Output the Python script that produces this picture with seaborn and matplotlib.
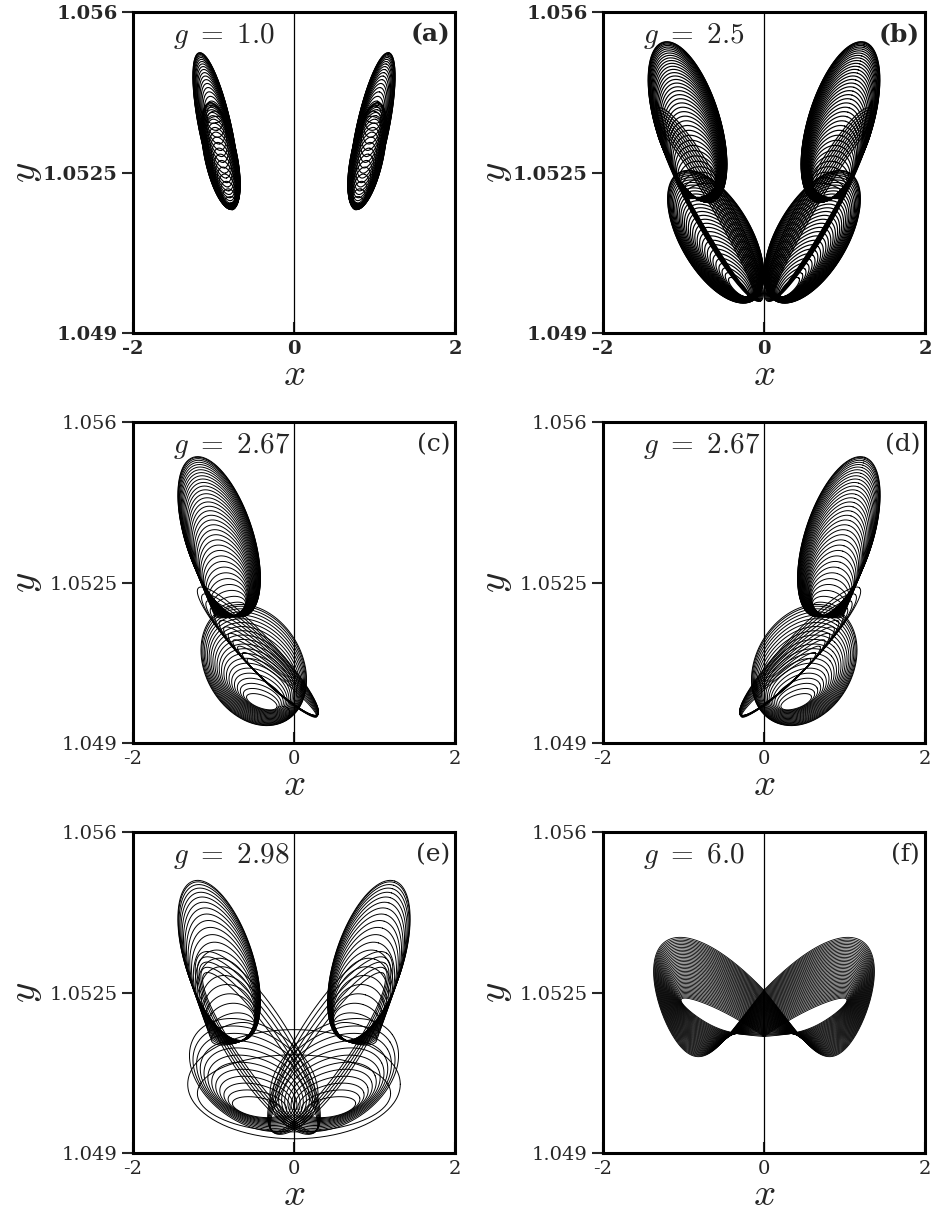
import numpy as np
import pandas as pd
import matplotlib
matplotlib.use("Agg")
import matplotlib.pyplot as plt
import seaborn as sns

# ---------------- data ----------------
X_LIMITS = [-2.0, 2.0]
Y_LIMITS = [1.049, 1.056]
X_TICKS = [-2, 0, 2]
X_TICK_LABELS = ["-2", "0", "2"]
Y_TICKS = [1.049, 1.0525, 1.056]
Y_TICK_LABELS = ["1.049", "1.0525", "1.056"]
PANEL_LABELS = ["(a)", "(b)", "(c)", "(d)", "(e)", "(f)"]
G_VALUES = ["1.0", "2.5", "2.67", "2.67", "2.98", "6.0"]

# Loop families: each loop is a tilted closed orbit read as
# (centre x, centre y, half-length along tilt, half-width, tilt deg);
# outermost and innermost loop of each family, loop count, crowding.
A_UPPER = [(-0.97, 1.05340, 0.250, 0.050, -78), (-0.98, 1.05365, 0.010, 0.022, -78), 22, 1.8]
A_LOWER = [(-0.91, 1.05286, 0.170, 0.050, -78), (-0.80, 1.05190, 0.010, 0.016, -75), 22, 1.8]

B_UPPER = [(-0.95, 1.05360, 0.260, 0.100, -73), (-0.80, 1.05210, 0.020, 0.050, -73), 40, 1.6]
B_LOWER = [(-0.60, 1.05110, 0.230, 0.110, -60), (-0.32, 1.05000, 0.040, 0.015, -45), 32, 1.5]
B_BAND = [(-0.68, 1.05180, 0.340, 0.060, -62), (-0.72, 1.05160, 0.300, 0.025, -60), 10, 1.0]

C_UPPER = [(-0.93, 1.05350, 0.260, 0.105, -72), (-0.80, 1.05190, 0.020, 0.050, -72), 36, 1.5]
C_LOWER = [(-0.50, 1.05070, 0.200, 0.150, -60), (-0.40, 1.04990, 0.050, 0.020, -20), 22, 1.3]
C_TIP = [(-0.45, 1.05100, 0.270, 0.050, -47), (-0.15, 1.05020, 0.140, 0.020, -40), 12, 1.0]

E_UPPER = [(-0.93, 1.05320, 0.260, 0.105, -72), (-0.76, 1.05160, 0.030, 0.070, -73), 22, 1.5]
E_LOWER = [(-0.50, 1.05070, 0.220, 0.150, -35), (-0.45, 1.05000, 0.080, 0.030, -10), 12, 1.0]
E_BAND = [(-0.45, 1.05140, 0.330, 0.100, -58), (-0.42, 1.05120, 0.300, 0.060, -55), 5, 1.0]
E_WIDE = [(0.00, 1.0505, 0.330, 0.170, 0), (0.00, 1.05030, 0.300, 0.120, 0), 2, 1.0]

# figure-eight loops of (f): (crossing y, half-span, lobe skew, lobe height, lobe lift)
F_EIGHT = [(1.05255, 1.32, 0.20, 0.0013, -0.00021), (1.05154, 1.00, 0.13, 0.000275, 0.00069), 46, 1.0]

X_SPAN = X_LIMITS[1] - X_LIMITS[0]
Y_SPAN = Y_LIMITS[1] - Y_LIMITS[0]


def ellipse_loops(spec, mirror=False, tag=0):
    outer, inner, count, crowd = spec
    o = np.array(outer, float)
    i = np.array(inner, float)
    frac = (np.arange(count) / (count - 1)) ** crowd
    t = np.linspace(0, 2 * np.pi, 181)
    frames = []
    for k, f in enumerate(frac):
        xc, yc, a, b, th = o + f * (i - o)
        if mirror:
            xc, th = -xc, -th
        r = np.deg2rad(th)
        du = a * np.cos(r) * np.cos(t) - b * np.sin(r) * np.sin(t)
        dv = a * np.sin(r) * np.cos(t) + b * np.cos(r) * np.sin(t)
        frames.append(pd.DataFrame({"x": xc + X_SPAN * du,
                                    "y": yc + Y_SPAN * dv,
                                    "loop": f"{tag}-{int(mirror)}-{k}"}))
    return frames


def eight_loops(spec):
    outer, inner, count, crowd = spec
    o = np.array(outer, float)
    i = np.array(inner, float)
    frac = (np.arange(count) / (count - 1)) ** crowd
    t = np.linspace(0, 2 * np.pi, 361)
    frames = []
    for k, f in enumerate(frac):
        y0, X, K, Y, R = o + f * (i - o)
        x = X * np.sin(t) + K * np.sin(2 * t) * np.sin(t)
        y = y0 + Y * np.sin(2 * t) + R * np.abs(np.sin(t))
        frames.append(pd.DataFrame({"x": x, "y": y, "loop": f"8-{k}"}))
    return frames


def both(spec, tag):
    return ellipse_loops(spec, False, tag) + ellipse_loops(spec, True, tag)


def one(spec, tag, mirror=False):
    return ellipse_loops(spec, mirror, tag)


panels = [
    (both(A_UPPER, 1) + both(A_LOWER, 2), 0.8),
    (both(B_UPPER, 1) + both(B_LOWER, 2) + both(B_BAND, 3), 0.85),
    (one(C_UPPER, 1) + one(C_LOWER, 2) + one(C_TIP, 3), 0.7),
    (one(C_UPPER, 1, True) + one(C_LOWER, 2, True) + one(C_TIP, 3, True), 0.7),
    (both(E_UPPER, 1) + both(E_LOWER, 2) + both(E_BAND, 3) + one(E_WIDE, 4), 0.7),
    (eight_loops(F_EIGHT), 0.6),
]

# ---------------- figure ----------------
sns.set_theme(style="ticks")
plt.rcParams["font.family"] = ["DejaVu Serif"]
plt.rcParams["mathtext.fontset"] = "cm"

fig = plt.figure(figsize=(9.37, 12.2), dpi=100)
lefts = [133 / 937, 603 / 937]
bottoms = [1 - 333 / 1220, 1 - 743 / 1220, 1 - 1153 / 1220]
w = 322 / 937
h = 321 / 1220

for idx, (frames, lw) in enumerate(panels):
    row, col = divmod(idx, 2)
    ax = fig.add_axes([lefts[col], bottoms[row], w, h])
    bold = "bold" if row == 0 else "normal"
    df = pd.concat(frames, ignore_index=True)
    ax.axvline(0, color="black", lw=0.9, zorder=1)
    sns.lineplot(data=df, x="x", y="y", units="loop", estimator=None, sort=False,
                 color="black", linewidth=lw, ax=ax, legend=False, zorder=2)
    ax.set_xlim(*X_LIMITS)
    ax.set_ylim(*Y_LIMITS)
    ax.set_xticks(X_TICKS)
    ax.set_xticklabels(X_TICK_LABELS, fontsize=14, fontweight=bold)
    ax.set_yticks(Y_TICKS)
    ax.set_yticklabels(Y_TICK_LABELS, fontsize=14, fontweight=bold)
    ax.tick_params(axis="x", direction="in", length=8, width=1.5, pad=5)
    ax.tick_params(axis="y", direction="out", length=8, width=1.5, pad=3)
    for s in ax.spines.values():
        s.set_linewidth(2.2)
        s.set_color("black")
    ax.set_xlabel(r"$x$", fontsize=28)
    ax.set_ylabel(r"$y$", fontsize=28)
    ax.xaxis.set_label_coords(0.5, -0.072)
    ax.yaxis.set_label_coords(-0.275, 0.5)
    ax.text(0.124, 0.925, r"$g\ =\ %s$" % G_VALUES[idx], transform=ax.transAxes,
            fontsize=21, ha="left", va="center")
    ax.text(0.985, 0.93, PANEL_LABELS[idx], transform=ax.transAxes,
            fontsize=18, ha="right", va="center", fontweight=bold)

fig.savefig("out.png", dpi=100)
